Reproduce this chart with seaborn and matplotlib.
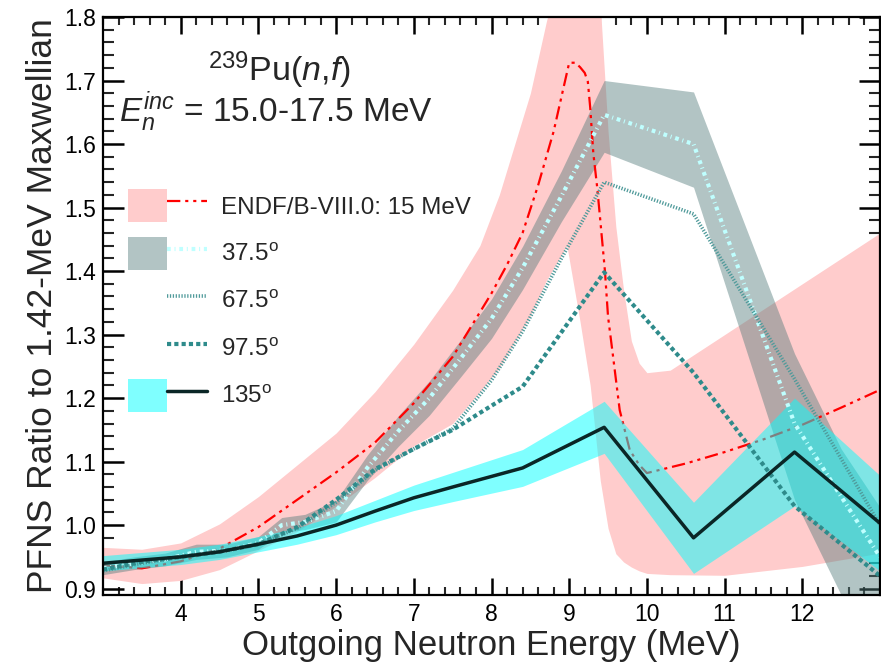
import numpy as np
import pandas as pd
import matplotlib
matplotlib.use("Agg")
import matplotlib.pyplot as plt
import seaborn as sns
from matplotlib.patches import Patch
from matplotlib.lines import Line2D
from matplotlib.legend_handler import HandlerTuple
from matplotlib.ticker import MultipleLocator

# ENDF/B-VIII.0 evaluation (15 MeV incident), ratio to 1.42-MeV Maxwellian
endf_e = [3.0, 3.5, 4.0, 4.5, 5.0, 5.5, 6.0, 6.5, 7.0, 7.5, 7.85, 8.0, 8.2, 8.4,
          8.6, 8.8, 8.92, 9.0, 9.08, 9.14, 9.2, 9.24, 9.27, 9.31, 9.36, 9.4,
          9.46, 9.5, 9.56, 9.65, 9.78, 9.9, 10.0, 10.5, 11.0, 11.5, 12.0, 12.5, 13.0]
endf_ratio = [0.937, 0.932, 0.943, 0.963, 0.997, 1.040, 1.083, 1.130, 1.192, 1.265,
              1.335, 1.365, 1.410, 1.460, 1.535, 1.620, 1.685, 1.728, 1.728, 1.721,
              1.712, 1.698, 1.658, 1.586, 1.532, 1.480, 1.400, 1.328, 1.270, 1.181,
              1.118, 1.095, 1.082, 1.097, 1.115, 1.135, 1.158, 1.185, 1.213]

# ENDF/B-VIII.0 uncertainty envelope
endf_band_e = [3.0, 3.5, 4.0, 4.5, 5.0, 5.5, 6.0, 6.5, 7.0, 7.5, 7.85, 8.1, 8.5,
               8.71, 8.97, 9.14, 9.27, 9.4, 9.5, 9.6, 9.7, 9.8, 9.9, 10.0, 10.3,
               11.0, 12.0, 13.0]
endf_band_lo = [0.917, 0.908, 0.913, 0.930, 0.960, 0.990, 1.030, 1.075, 1.125, 1.160,
                1.210, 1.248, 1.330, 1.386, 1.440, 1.320, 1.220, 1.070, 0.995, 0.955,
                0.942, 0.934, 0.928, 0.924, 0.922, 0.921, 0.935, 0.956]
endf_band_hi = [0.965, 0.962, 0.972, 1.002, 1.045, 1.095, 1.145, 1.210, 1.285, 1.370,
                1.440, 1.520, 1.680, 1.795, 1.900, 1.900, 1.900, 1.820, 1.620, 1.470,
                1.370, 1.290, 1.255, 1.240, 1.244, 1.300, 1.380, 1.460]

# 37.5 degree detector angle
e_375 = [3.0, 3.4, 3.8, 4.2, 4.6, 5.0, 5.3, 5.6, 6.0, 6.4, 6.8, 7.2, 7.6, 8.0,
         8.4, 8.9, 9.45, 10.6, 11.9, 12.5, 13.0]
r_375 = [0.932, 0.940, 0.946, 0.958, 0.960, 0.972, 1.000, 1.005, 1.022, 1.090,
         1.148, 1.200, 1.262, 1.325, 1.405, 1.518, 1.646, 1.600, 1.160, 1.045, 0.950]
lo_375 = [0.922, 0.930, 0.936, 0.946, 0.950, 0.962, 0.988, 0.993, 1.005, 1.070,
          1.124, 1.173, 1.233, 1.294, 1.371, 1.478, 1.587, 1.532, 1.040, 0.890, 0.730]
hi_375 = [0.942, 0.950, 0.956, 0.970, 0.970, 0.982, 1.012, 1.017, 1.039, 1.110,
          1.172, 1.227, 1.291, 1.356, 1.439, 1.558, 1.700, 1.682, 1.270, 1.120, 1.028]

# 67.5 degree detector angle
e_675 = [3.0, 3.5, 4.0, 4.5, 5.0, 5.5, 6.0, 6.5, 7.0, 7.5, 8.0, 8.4, 8.9, 9.45,
         10.6, 11.9, 13.0]
r_675 = [0.928, 0.940, 0.950, 0.958, 0.970, 0.995, 1.036, 1.086, 1.120, 1.152,
         1.228, 1.305, 1.420, 1.540, 1.490, 1.230, 1.000]

# 97.5 degree detector angle
e_975 = [3.0, 3.5, 4.0, 4.5, 5.0, 5.5, 6.0, 6.5, 7.0, 7.5, 8.0, 8.4, 9.45, 10.6,
         11.9, 13.0]
r_975 = [0.930, 0.942, 0.950, 0.958, 0.970, 0.997, 1.040, 1.088, 1.120, 1.150,
         1.188, 1.218, 1.398, 1.240, 1.030, 0.920]

# 135 degree detector angle
e_135 = [3.0, 3.5, 4.0, 4.5, 5.0, 5.5, 6.0, 6.5, 7.0, 7.5, 8.4, 9.45, 10.6, 11.9, 13.0]
r_135 = [0.940, 0.945, 0.950, 0.958, 0.970, 0.983, 1.000, 1.022, 1.043, 1.060,
         1.090, 1.154, 0.980, 1.115, 1.003]
err_135 = [0.012, 0.012, 0.012, 0.012, 0.012, 0.013, 0.015, 0.017, 0.020, 0.023,
           0.029, 0.041, 0.056, 0.085, 0.075]

legend_labels = ["ENDF/B-VIII.0: 15 MeV", r"37.5$^{\rm o}$", r"67.5$^{\rm o}$",
                 r"97.5$^{\rm o}$", r"135$^{\rm o}$"]

sns.set_theme(style="ticks")
plt.rcParams["font.family"] = ["Liberation Sans", "DejaVu Sans"]
plt.rcParams["mathtext.fontset"] = "custom"
plt.rcParams["mathtext.rm"] = "Liberation Sans"
plt.rcParams["mathtext.it"] = "Liberation Sans:italic"
plt.rcParams["mathtext.bf"] = "Liberation Sans:bold"

# colours and line styles
c_endf_band = "#FFCCCC"
c_endf = "#FF0000"
c_grey = "#547C7C"
c_375 = "#BFFFFF"
c_675 = "#4F9A9A"
c_975 = "#2E8B8B"
c_cyan = "#00FFFF"
c_135 = "#0A2626"
ls_endf = (0, (6, 2.2, 1.4, 2.2, 1.4, 2.2))
ls_375 = (0, (0.9, 0.9, 0.25, 0.9))
ls_675 = (0, (0.35, 0.45))
ls_975 = (0, (1.0, 0.75))

fig = plt.figure(figsize=(8.81, 6.63), dpi=100)
ax = fig.add_axes([103 / 881, 68 / 663, 777 / 881, 578 / 663])

ax.fill_between(endf_band_e, endf_band_lo, endf_band_hi, color=c_endf_band,
                lw=0, zorder=1)
ax.fill_between(e_375, lo_375, hi_375, color=c_grey, alpha=0.45, lw=0, zorder=2)

df_endf = pd.DataFrame({"E": endf_e, "ratio": endf_ratio})
sns.lineplot(data=df_endf, x="E", y="ratio", ax=ax, color=c_endf, lw=1.6,
             linestyle=ls_endf, estimator=None, sort=False, zorder=3)

r135 = np.array(r_135)
e135err = np.array(err_135)
ax.fill_between(e_135, r135 - e135err, r135 + e135err, color=c_cyan, alpha=0.5,
                lw=0, zorder=4)

df_375 = pd.DataFrame({"E": e_375, "ratio": r_375})
sns.lineplot(data=df_375, x="E", y="ratio", ax=ax, color=c_375, lw=3.0,
             linestyle=ls_375, estimator=None, sort=False, zorder=5)
df_675 = pd.DataFrame({"E": e_675, "ratio": r_675})
sns.lineplot(data=df_675, x="E", y="ratio", ax=ax, color=c_675, lw=2.6,
             linestyle=ls_675, estimator=None, sort=False, zorder=5)
df_975 = pd.DataFrame({"E": e_975, "ratio": r_975})
sns.lineplot(data=df_975, x="E", y="ratio", ax=ax, color=c_975, lw=3.0,
             linestyle=ls_975, estimator=None, sort=False, zorder=5)
df_135 = pd.DataFrame({"E": e_135, "ratio": r_135})
sns.lineplot(data=df_135, x="E", y="ratio", ax=ax, color=c_135, lw=2.5,
             linestyle="-", estimator=None, sort=False, zorder=6)

ax.set_xlim(3, 13)
ax.set_ylim(0.89, 1.8)
ax.xaxis.set_major_locator(MultipleLocator(1))
ax.xaxis.set_minor_locator(MultipleLocator(0.2))
ax.yaxis.set_major_locator(MultipleLocator(0.1))
ax.yaxis.set_minor_locator(MultipleLocator(0.02))
ax.set_xticks([4, 5, 6, 7, 8, 9, 10, 11, 12])
ax.set_xticklabels(["4", "5", "6", "7", "8", "9", "10", "11", "12"])
ax.set_yticks([0.9, 1.0, 1.1, 1.2, 1.3, 1.4, 1.5, 1.6, 1.7, 1.8])
ax.set_yticklabels(["0.9", "1.0", "1.1", "1.2", "1.3", "1.4", "1.5", "1.6", "1.7", "1.8"])

ax.tick_params(axis="x", which="major", direction="in", top=True, bottom=True,
               length=12, width=1.8, labelsize=16.5, pad=6, colors="black")
ax.tick_params(axis="x", which="minor", direction="in", top=True, bottom=True,
               length=6, width=1.5)
ax.tick_params(axis="y", which="major", direction="in", left=True, right=True,
               length=15, width=1.8, labelsize=16.5, pad=5, colors="black")
ax.tick_params(axis="y", which="minor", direction="in", left=True, right=True,
               length=8, width=1.5)
for s in ax.spines.values():
    s.set_linewidth(1.6)
    s.set_color("black")
    s.set_zorder(10)

ax.set_xlabel("Outgoing Neutron Energy (MeV)", fontsize=25, labelpad=2)
ax.set_ylabel("PFNS Ratio to 1.42-MeV Maxwellian", fontsize=25.5, labelpad=4)

fig.text(279 / 881, 1 - 70 / 663, r"$^{239}$Pu($n$,$f$)", fontsize=24.5,
         ha="center", va="center")
fig.text(119 / 881, 1 - 122 / 663, r"$E_n^{inc}$ = 15.0-17.5 MeV", fontsize=24,
         ha="left", va="baseline")

# legend: shaded band with the line drawn over it
h_endf = (Patch(facecolor=c_endf_band, edgecolor="none"),
          Line2D([], [], color=c_endf, lw=1.6, linestyle=ls_endf))
h_375 = (Patch(facecolor=c_grey, alpha=0.45, edgecolor="none"),
         Line2D([], [], color=c_375, lw=3.0, linestyle=ls_375))
h_675 = (Patch(facecolor="none", edgecolor="none"),
         Line2D([], [], color=c_675, lw=2.6, linestyle=ls_675))
h_975 = (Patch(facecolor="none", edgecolor="none"),
         Line2D([], [], color=c_975, lw=3.0, linestyle=ls_975))
h_135 = (Patch(facecolor=c_cyan, alpha=0.5, edgecolor="none"),
         Line2D([], [], color=c_135, lw=2.5))
leg = ax.legend([h_endf, h_375, h_675, h_975, h_135], legend_labels,
                handler_map={tuple: HandlerTuple(ndivide=None, pad=0)},
                loc="upper left", bbox_to_anchor=(0.032, 0.702), frameon=False,
                fontsize=17.4, handlelength=3.26, handleheight=1.72,
                handletextpad=0.58, labelspacing=0.6, borderpad=0,
                borderaxespad=0)
leg.set_zorder(20)

fig.savefig("out.png", dpi=100)
